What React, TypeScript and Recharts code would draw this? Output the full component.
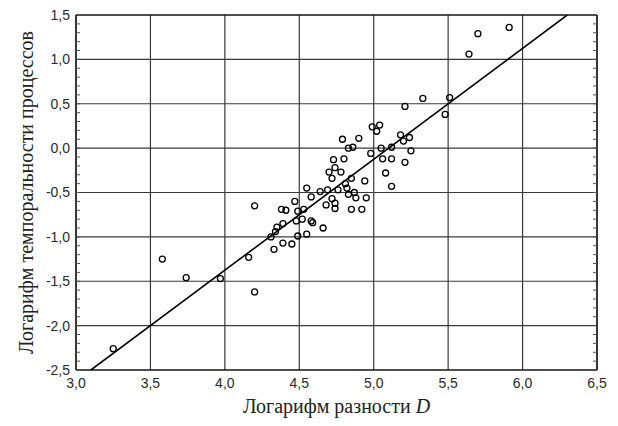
import { ScatterChart, Scatter, XAxis, YAxis, CartesianGrid, Label } from "recharts";

// measured points (log D, log temporality)
const pointX = [
  3.25, 3.58, 3.74, 3.97, 4.16, 4.2, 4.2,
  4.31, 4.33, 4.34, 4.35, 4.39, 4.39, 4.38, 4.41, 4.45, 4.47, 4.48, 4.49, 4.49, 4.52,
  4.53, 4.55, 4.55, 4.58, 4.58, 4.59, 4.64, 4.66, 4.68, 4.69,
  4.7, 4.72, 4.72, 4.73, 4.74, 4.74, 4.74, 4.76, 4.78, 4.8, 4.79, 4.81, 4.82, 4.83,
  4.83, 4.85, 4.85, 4.86, 4.87, 4.88, 4.9, 4.92, 4.94, 4.95, 4.98, 4.99, 5.02, 5.04,
  5.05, 5.06, 5.08, 5.12, 5.12, 5.12, 5.18, 5.2, 5.21, 5.21, 5.24, 5.25,
  5.33, 5.48, 5.51, 5.64, 5.7, 5.91,
];
const pointY = [
  -2.26, -1.25, -1.46, -1.47, -1.23, -1.62, -0.65,
  -1.0, -1.14, -0.94, -0.89, -0.85, -1.07, -0.69, -0.7, -1.08, -0.6, -0.82, -0.71, -0.99, -0.8,
  -0.69, -0.97, -0.45, -0.55, -0.82, -0.84, -0.49, -0.9, -0.64, -0.47,
  -0.27, -0.34, -0.57, -0.13, -0.22, -0.62, -0.68, -0.47, -0.27, -0.12, 0.1, -0.4, -0.45, -0.52,
  0.0, -0.34, -0.69, 0.01, -0.5, -0.56, 0.11, -0.69, -0.37, -0.56, -0.06, 0.24, 0.19, 0.26,
  0.0, -0.12, -0.28, 0.01, -0.12, -0.43, 0.15, 0.08, 0.47, -0.16, 0.12, -0.03,
  0.56, 0.38, 0.57, 1.06, 1.29, 1.36,
];

// regression line ends
const fitX = [3.1, 6.3];
const fitY = [-2.5, 1.5];

const xTicks = [3, 3.5, 4, 4.5, 5, 5.5, 6, 6.5];
const yTicks = [-2.5, -2, -1.5, -1, -0.5, 0, 0.5, 1, 1.5];
const xMinor = Array.from({ length: 36 }, (_, i) => Math.round((3 + i * 0.1) * 10) / 10);
const yMinor = Array.from({ length: 41 }, (_, i) => Math.round((-2.5 + i * 0.1) * 10) / 10);

const points = pointX.map((x, i) => ({ x, y: pointY[i] }));
const fit = fitX.map((x, i) => ({ x, y: fitY[i] }));

const fmt = (v: number) => v.toFixed(1).replace(".", ",");
const blank = () => "";

const tickStyle = { fontFamily: "Liberation Sans, Arial, sans-serif", fontSize: 14, fill: "#2a2a2a" };
const titleFont = "Liberation Serif, Times New Roman, serif";

const Ring = (props: any) => (
  <circle cx={props.cx} cy={props.cy} r={3} fill="none" stroke="#000" strokeWidth={1.3} />
);

export default function App() {
  return (
    <div style={{ position: "absolute", left: 0, top: 0, width: 618, height: 426, background: "#fff" }}>
      <ScatterChart width={618} height={426} margin={{ top: 15, right: 21, bottom: 0, left: 0 }}>
        <CartesianGrid stroke="#3a3a3a" strokeWidth={1.2} />
        <XAxis
          type="number"
          dataKey="x"
          domain={[3, 6.5]}
          ticks={xTicks}
          interval={0}
          allowDataOverflow
          height={56}
          tickFormatter={fmt}
          tick={tickStyle}
          tickLine={false}
          tickSize={6}
          tickMargin={2}
          axisLine={{ stroke: "#000", strokeWidth: 1.2 }}
        >
          <Label
            content={(p: any) => {
              const vb = p.viewBox;
              return (
                <text
                  x={vb.x + vb.width / 2}
                  y={vb.y + 43}
                  textAnchor="middle"
                  fontFamily={titleFont}
                  fontSize={20}
                  fill="#222"
                >
                  Логарифм разности <tspan fontStyle="italic">D</tspan>
                </text>
              );
            }}
          />
        </XAxis>
        <YAxis
          type="number"
          dataKey="y"
          domain={[-2.5, 1.5]}
          ticks={yTicks}
          interval={0}
          allowDataOverflow
          width={76}
          tickFormatter={fmt}
          tick={tickStyle}
          tickLine={false}
          tickSize={4}
          tickMargin={2}
          axisLine={{ stroke: "#000", strokeWidth: 1.2 }}
        >
          <Label
            content={(p: any) => {
              const vb = p.viewBox;
              const cx = vb.x + 33;
              const cy = vb.y + vb.height / 2;
              return (
                <text
                  x={cx}
                  y={cy}
                  transform={`rotate(-90, ${cx}, ${cy})`}
                  textAnchor="middle"
                  fontFamily={titleFont}
                  fontSize={20}
                  fill="#222"
                >
                  Логарифм темпоральности процессов
                </text>
              );
            }}
          />
        </YAxis>

        {/* minor inward ticks + top/right frame */}
        <XAxis xAxisId="mb" orientation="bottom" mirror type="number" domain={[3, 6.5]} allowDataOverflow
          ticks={xMinor} interval={0} height={1} tickSize={4} tickFormatter={blank} axisLine={false}
          tickLine={{ stroke: "#555" }} />
        <XAxis xAxisId="mt" orientation="top" mirror type="number" domain={[3, 6.5]} allowDataOverflow
          ticks={xMinor} interval={0} height={1} tickSize={4} tickFormatter={blank}
          axisLine={{ stroke: "#000", strokeWidth: 1.2 }} tickLine={{ stroke: "#555" }} />
        <YAxis yAxisId="ml" orientation="left" mirror type="number" domain={[-2.5, 1.5]} allowDataOverflow
          ticks={yMinor} interval={0} width={1} tickSize={4} tickFormatter={blank} axisLine={false}
          tickLine={{ stroke: "#555" }} />
        <YAxis yAxisId="mr" orientation="right" mirror type="number" domain={[-2.5, 1.5]} allowDataOverflow
          ticks={yMinor} interval={0} width={1} tickSize={4} tickFormatter={blank}
          axisLine={{ stroke: "#000", strokeWidth: 1.2 }} tickLine={{ stroke: "#555" }} />

        <Scatter
          data={fit}
          line={{ stroke: "#000", strokeWidth: 1.6 }}
          shape={() => <g />}
          isAnimationActive={false}
          legendType="none"
        />
        <Scatter data={points} shape={Ring} isAnimationActive={false} />
      </ScatterChart>
    </div>
  );
}
